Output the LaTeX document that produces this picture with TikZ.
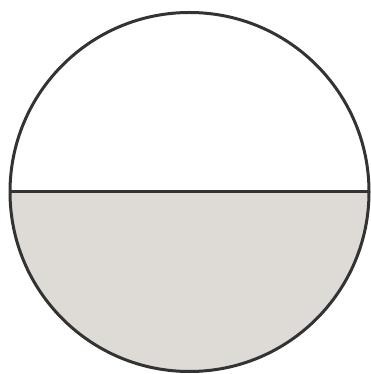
\documentclass[tikz,border=0pt]{standalone}
\usepackage{xcolor}
\usepackage{tikz}
\usetikzlibrary{calc}
\definecolor{rimgray}{RGB}{51, 51, 51}
\definecolor{halfgray}{RGB}{222, 218, 214}

\begin{document}
\begin{tikzpicture}[
    x=1pt, y=1pt,
    rim/.style={draw=rimgray, line width=3pt},
    lowerhalf/.style={fill=halfgray}
]
\useasboundingbox (0, 0) rectangle (371, 374);

\coordinate (c) at (189.5, 182);
\def\rad{179.5}

% shaded lower half
\fill[lowerhalf] ($(c)+(-\rad,0)$) arc[start angle=180, end angle=360, radius=\rad] -- cycle;

% outline and diameter
\draw[rim] (c) circle[radius=\rad];
\draw[rim] ($(c)+(-\rad,0)$) -- ($(c)+(\rad,0)$);
\end{tikzpicture}
\end{document}
